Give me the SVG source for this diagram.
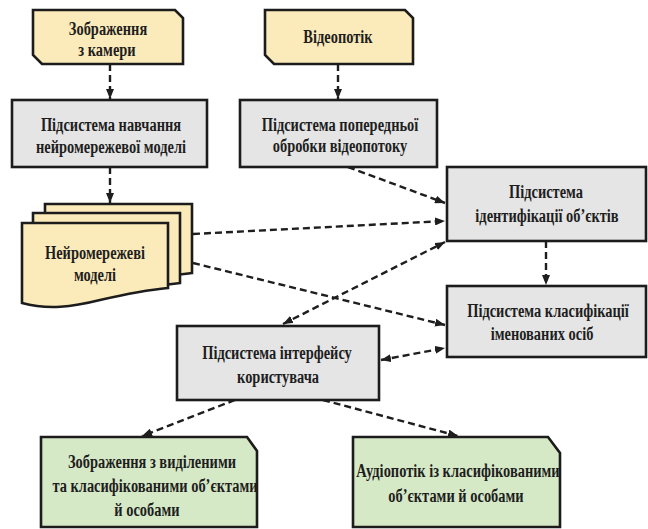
<svg xmlns="http://www.w3.org/2000/svg" width="648" height="529" viewBox="0 0 648 529">
  <defs>
    <style>
      .box { stroke: #1c1c1c; stroke-width: 2.6; stroke-linejoin: miter; }
      .src { fill: #fcebba; }
      .sub { fill: #e5e5e5; }
      .out { fill: #d6e9c6; }
      .lbl { font-family: "Liberation Serif", "Times New Roman", serif; font-weight: bold; font-size: 19px; fill: #1e1e1e; text-anchor: middle; }
      .conn { fill: none; stroke: #1e1e1e; stroke-width: 2.4; stroke-dasharray: 7 4; }
    </style>
    <marker id="arrow" viewBox="0 0 10 8" refX="10" refY="4" markerWidth="10" markerHeight="8" markerUnits="userSpaceOnUse" orient="auto-start-reverse">
      <path d="M0,0 L10,4 L0,8 z" fill="#1e1e1e"/>
    </marker>
  </defs>
  <rect width="648" height="529" fill="#ffffff"/>

  <!-- connectors -->
  <g id="connectors">
    <path class="conn" d="M110,64 V99" marker-end="url(#arrow)"/>
    <path class="conn" d="M338,64 V99" marker-end="url(#arrow)"/>
    <path class="conn" d="M110,167 V203" marker-end="url(#arrow)"/>
    <path class="conn" d="M348,167 L445,203" marker-end="url(#arrow)"/>
    <path class="conn" d="M193,234 L445,221" marker-end="url(#arrow)"/>
    <path class="conn" d="M283,324 L445,242" marker-start="url(#arrow)" marker-end="url(#arrow)"/>
    <path class="conn" d="M193,263 L445,325" marker-end="url(#arrow)"/>
    <path class="conn" d="M546,241 V285" marker-end="url(#arrow)"/>
    <path class="conn" d="M381,360 L445,348" marker-start="url(#arrow)" marker-end="url(#arrow)"/>
    <path class="conn" d="M235,400 L142,436" marker-end="url(#arrow)"/>
    <path class="conn" d="M323,400 L458,436" marker-end="url(#arrow)"/>
  </g>

  <!-- labels are set in a condensed bold serif: each line is narrowed by scale(0.76,1) -->
  <g id="camera-images">
    <path class="box src" d="M33,10 H175 L183,18 V64 H42 L33,55 Z"/>
    <text class="lbl" transform="translate(108,35) scale(0.76,1)">Зображення</text>
    <text class="lbl" transform="translate(107,56) scale(0.76,1)">з камери</text>
  </g>

  <g id="video-stream">
    <path class="box src" d="M265,10 H405 L413,18 V64 H274 L265,55 Z"/>
    <text class="lbl" transform="translate(338,43) scale(0.76,1)">Відеопотік</text>
  </g>

  <g id="training-subsystem">
    <rect class="box sub" x="12" y="100" width="195" height="67"/>
    <text class="lbl" transform="translate(111,131) scale(0.76,1)">Підсистема навчання</text>
    <text class="lbl" transform="translate(111,153) scale(0.76,1)">нейромережевої моделі</text>
  </g>

  <g id="preprocessing-subsystem">
    <rect class="box sub" x="240" y="100" width="197" height="67"/>
    <text class="lbl" transform="translate(340,131) scale(0.76,1)">Підсистема попередньої</text>
    <text class="lbl" transform="translate(340,152) scale(0.76,1)">обробки відеопотоку</text>
  </g>

  <g id="neural-models">
    <path class="box src" d="M45,204 H192 V273 C170,275 150,280 120,285 C90,290 65,292 45,285 Z"/>
    <path class="box src" d="M33,213 H180 V283 C158,285 138,290 108,295 C78,300 53,302 33,295 Z"/>
    <path class="box src" d="M22,223 H168 V288 C146,290 126,294 100,300 C72,307 48,310 22,303 Z"/>
    <text class="lbl" transform="translate(95,259) scale(0.76,1)">Нейромережеві</text>
    <text class="lbl" transform="translate(95,281) scale(0.76,1)">моделі</text>
  </g>

  <g id="identification-subsystem">
    <rect class="box sub" x="447" y="167" width="199" height="74"/>
    <text class="lbl" transform="translate(546,198) scale(0.76,1)">Підсистема</text>
    <text class="lbl" transform="translate(547,222) scale(0.76,1)">ідентифікації об’єктів</text>
  </g>

  <g id="classification-subsystem">
    <rect class="box sub" x="447" y="286" width="199" height="71"/>
    <text class="lbl" transform="translate(548,317) scale(0.76,1)">Підсистема класифікації</text>
    <text class="lbl" transform="translate(542,340) scale(0.76,1)">іменованих осіб</text>
  </g>

  <g id="ui-subsystem">
    <rect class="box sub" x="177" y="326" width="202" height="74"/>
    <text class="lbl" transform="translate(277,359) scale(0.76,1)">Підсистема інтерфейсу</text>
    <text class="lbl" transform="translate(278,383) scale(0.76,1)">користувача</text>
  </g>

  <g id="annotated-images">
    <path class="box out" d="M41,437 H247 L257,451 V527 H41 Z"/>
    <text class="lbl" transform="translate(152,468) scale(0.76,1)">Зображення з виділеними</text>
    <text class="lbl" transform="translate(155,492) scale(0.76,1)">та класифікованими об’єктами</text>
    <text class="lbl" transform="translate(147,516) scale(0.76,1)">й особами</text>
  </g>

  <g id="classified-audio">
    <path class="box out" d="M353,437 H548 L560,453 V527 H353 Z"/>
    <text class="lbl" transform="translate(458,477) scale(0.76,1)">Аудіопотік із класифікованими</text>
    <text class="lbl" transform="translate(456,502) scale(0.76,1)">об’єктами й особами</text>
  </g>
</svg>
